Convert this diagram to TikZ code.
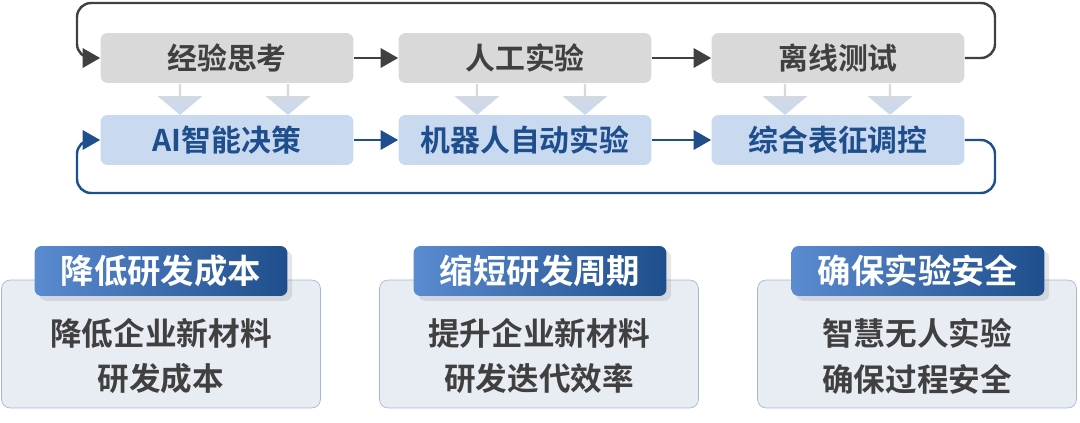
\documentclass[tikz,border=0pt]{standalone}
\usepackage{fontspec}
\setmainfont{Noto Sans CJK SC Bold}
\usetikzlibrary{positioning}
\usetikzlibrary{arrows.meta}
\usetikzlibrary{shapes.arrows}
\usetikzlibrary{shadows}
\definecolor{darkgray}{HTML}{404040}
\definecolor{stepgray}{HTML}{D9D9D9}
\definecolor{stepblue}{HTML}{C9D9F0}
\definecolor{navy}{HTML}{1F4E8C}
\definecolor{lightnavy}{HTML}{5B8BD0}
\definecolor{panelbg}{HTML}{E8ECF3}
\begin{document}
\begin{tikzpicture}[x=0.02cm,y=-0.02cm,
    manual/.style={fill=stepgray, rounded corners=4pt, minimum width=5.06cm, minimum height=1cm, text=darkgray, font=\fontsize{17}{17}\selectfont},
    auto/.style={fill=stepblue, rounded corners=4pt, minimum width=5.06cm, minimum height=1cm, text=navy, font=\fontsize{17}{17}\selectfont},
    flow/.style={-{Triangle[length=10pt,width=11pt]}, line width=1.4pt},
    down/.style={single arrow, shape border rotate=270, minimum height=0.62cm, minimum width=0.9cm, single arrow head extend=0.15cm, single arrow tip angle=100, inner sep=0pt, top color=stepgray, bottom color=stepblue, draw=none},
    panel/.style={draw=navy!40, fill=panelbg, rounded corners=5pt, minimum width=6.38cm, minimum height=2.56cm},
    header/.style={rounded corners=4pt, left color=lightnavy, right color=navy, text=white, minimum width=5.06cm, minimum height=1cm, font=\fontsize{19}{19}\selectfont, drop shadow={opacity=0.2}},
    body/.style={text=darkgray, font=\fontsize{18}{26}\selectfont, align=center}]
\useasboundingbox (0,0) rectangle (1080,423);
% upper row: manual work
\node[manual] (think) at (227,58) {经验思考};
\node[manual] (manual) at (525,58) {人工实验};
\node[manual] (offline) at (838,58) {离线测试};
% lower row: automated work
\node[auto] (ai) at (227,140) {AI智能决策};
\node[auto] (robot) at (525,140) {机器人自动实验};
\node[auto] (tune) at (838,140) {综合表征调控};
% block arrows between rows
\foreach \x in {180,288,477,585,785,890}
  \node[down] at (\x,99) {};
\draw[flow, darkgray] (think) -- (manual);
\draw[flow, darkgray] (manual) -- (offline);
\draw[flow, navy] (ai) -- (robot);
\draw[flow, navy] (robot) -- (tune);
% feedback loops
\draw[flow, darkgray, rounded corners=8pt] (offline.east) -| (995,3) -| (77,58) -- (think.west);
\draw[flow, navy, rounded corners=8pt] (tune.east) -| (995,193) -| (77,140) -- (ai.west);
% benefit panels
\node[panel] (costbox) at (161,344) {};
\node[panel] (cyclebox) at (539,344) {};
\node[panel] (safebox) at (917,344) {};
\node[header] (cost) at (161,271) {降低研发成本};
\node[header] (cycle) at (540,271) {缩短研发周期};
\node[header] (safe) at (918,271) {确保实验安全};
\node[body] at (161,356) {降低企业新材料\\研发成本};
\node[body] at (539,356) {提升企业新材料\\研发迭代效率};
\node[body] at (917,356) {智慧无人实验\\确保过程安全};
\end{tikzpicture}
\end{document}
